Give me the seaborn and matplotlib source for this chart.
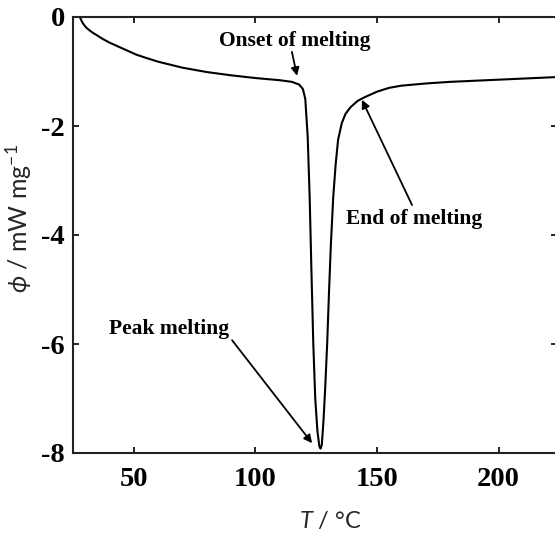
import numpy as np
import pandas as pd
import matplotlib
matplotlib.use("Agg")
import matplotlib.pyplot as plt
import seaborn as sns

# Data
temperature = [27.9, 28.1, 28.5, 29.0, 29.7, 30.5, 31.5, 33, 35, 37.5, 40, 43.5, 47,
               51, 55, 60, 70, 80, 90, 100, 110, 115, 118, 119.5, 120.5, 121.5,
               122.3, 123, 123.8, 124.6, 125.5, 126.3, 126.8, 127.3, 128, 128.7,
               129.5, 130.3, 131, 132, 133, 134, 135.5, 137, 139, 142, 145, 150,
               155, 160, 170, 180, 190, 200, 210, 220, 225]
heat_flow = [0.0, -0.03, -0.07, -0.11, -0.155, -0.195, -0.235, -0.285, -0.34,
             -0.41, -0.47, -0.54, -0.61, -0.69, -0.75, -0.82, -0.93, -1.01, -1.07,
             -1.12, -1.16, -1.19, -1.24, -1.32, -1.5, -2.2, -3.3, -4.6, -6.0,
             -7.0, -7.6, -7.88, -7.92, -7.85, -7.4, -6.8, -6.0, -5.0, -4.2, -3.3,
             -2.7, -2.25, -1.95, -1.78, -1.66, -1.54, -1.47, -1.37, -1.30, -1.26,
             -1.22, -1.19, -1.17, -1.15, -1.13, -1.11, -1.10]
x_ticks = [50, 100, 150, 200]
y_ticks = [0, -2, -4, -6, -8]

df = pd.DataFrame({"T": temperature, "phi": heat_flow})

sns.set_style("white")
plt.rcParams["mathtext.fontset"] = "custom"
plt.rcParams["mathtext.rm"] = "Lato"
plt.rcParams["mathtext.it"] = "Lato:italic"
plt.rcParams["mathtext.fallback"] = "stixsans"

fig = plt.figure(figsize=(5.55, 5.38), dpi=100)
ax = fig.add_axes([73/555, 1-453/538, (557-73)/555, (453-17)/538])

sns.lineplot(data=df, x="T", y="phi", ax=ax, color="black", linewidth=1.5,
             estimator=None, sort=False)

ax.set_xlim(25, 224)
ax.set_ylim(-8, 0)
ax.set_xticks(x_ticks)
ax.set_yticks(y_ticks)
ax.set_xticklabels([str(v) for v in x_ticks], fontfamily="Liberation Serif",
                   fontweight="bold", fontsize=20.5)
ax.set_yticklabels([str(v) for v in y_ticks], fontfamily="Liberation Serif",
                   fontweight="bold", fontsize=20.5)
ax.tick_params(direction="in", length=4, width=1.2, top=True, right=True,
               bottom=True, left=True, colors="black")
ax.tick_params(axis="x", pad=10)
ax.tick_params(axis="y", pad=6)
for s in ax.spines.values():
    s.set_visible(True)
    s.set_color("#222222")
    s.set_linewidth(1.5)

ax.set_xlabel(r"$T$ / °C", fontfamily="Lato", fontsize=17)
ax.xaxis.set_label_coords((330-73)/484, (453-510)/436)
ax.set_ylabel(r"$\phi$ / mW mg$^{\mathregular{-1}}$", fontfamily="Lato",
              fontsize=18)
ax.yaxis.set_label_coords((34-73)/484, (453-219)/436)

txt_kw = dict(fontfamily="Liberation Serif", fontweight="bold", fontsize=15.5,
              ha="center", va="center", color="black")
arrow_kw = dict(arrowstyle="-|>", color="black", lw=1.3, mutation_scale=12,
                shrinkA=0, shrinkB=0)

ax.text(116.1, -0.44, "Onset of melting", **txt_kw)
ax.annotate("", xy=(117.1, -1.08), xytext=(115.0, -0.64), arrowprops=arrow_kw)

ax.text(165.2, -3.71, "End of melting", **txt_kw)
ax.annotate("", xy=(143.8, -1.52), xytext=(164.4, -3.45), arrowprops=arrow_kw)

ax.text(64.5, -5.72, "Peak melting", **txt_kw)
ax.annotate("", xy=(123.3, -7.82), xytext=(90.4, -5.93), arrowprops=arrow_kw)

fig.savefig("out.png", dpi=100)
